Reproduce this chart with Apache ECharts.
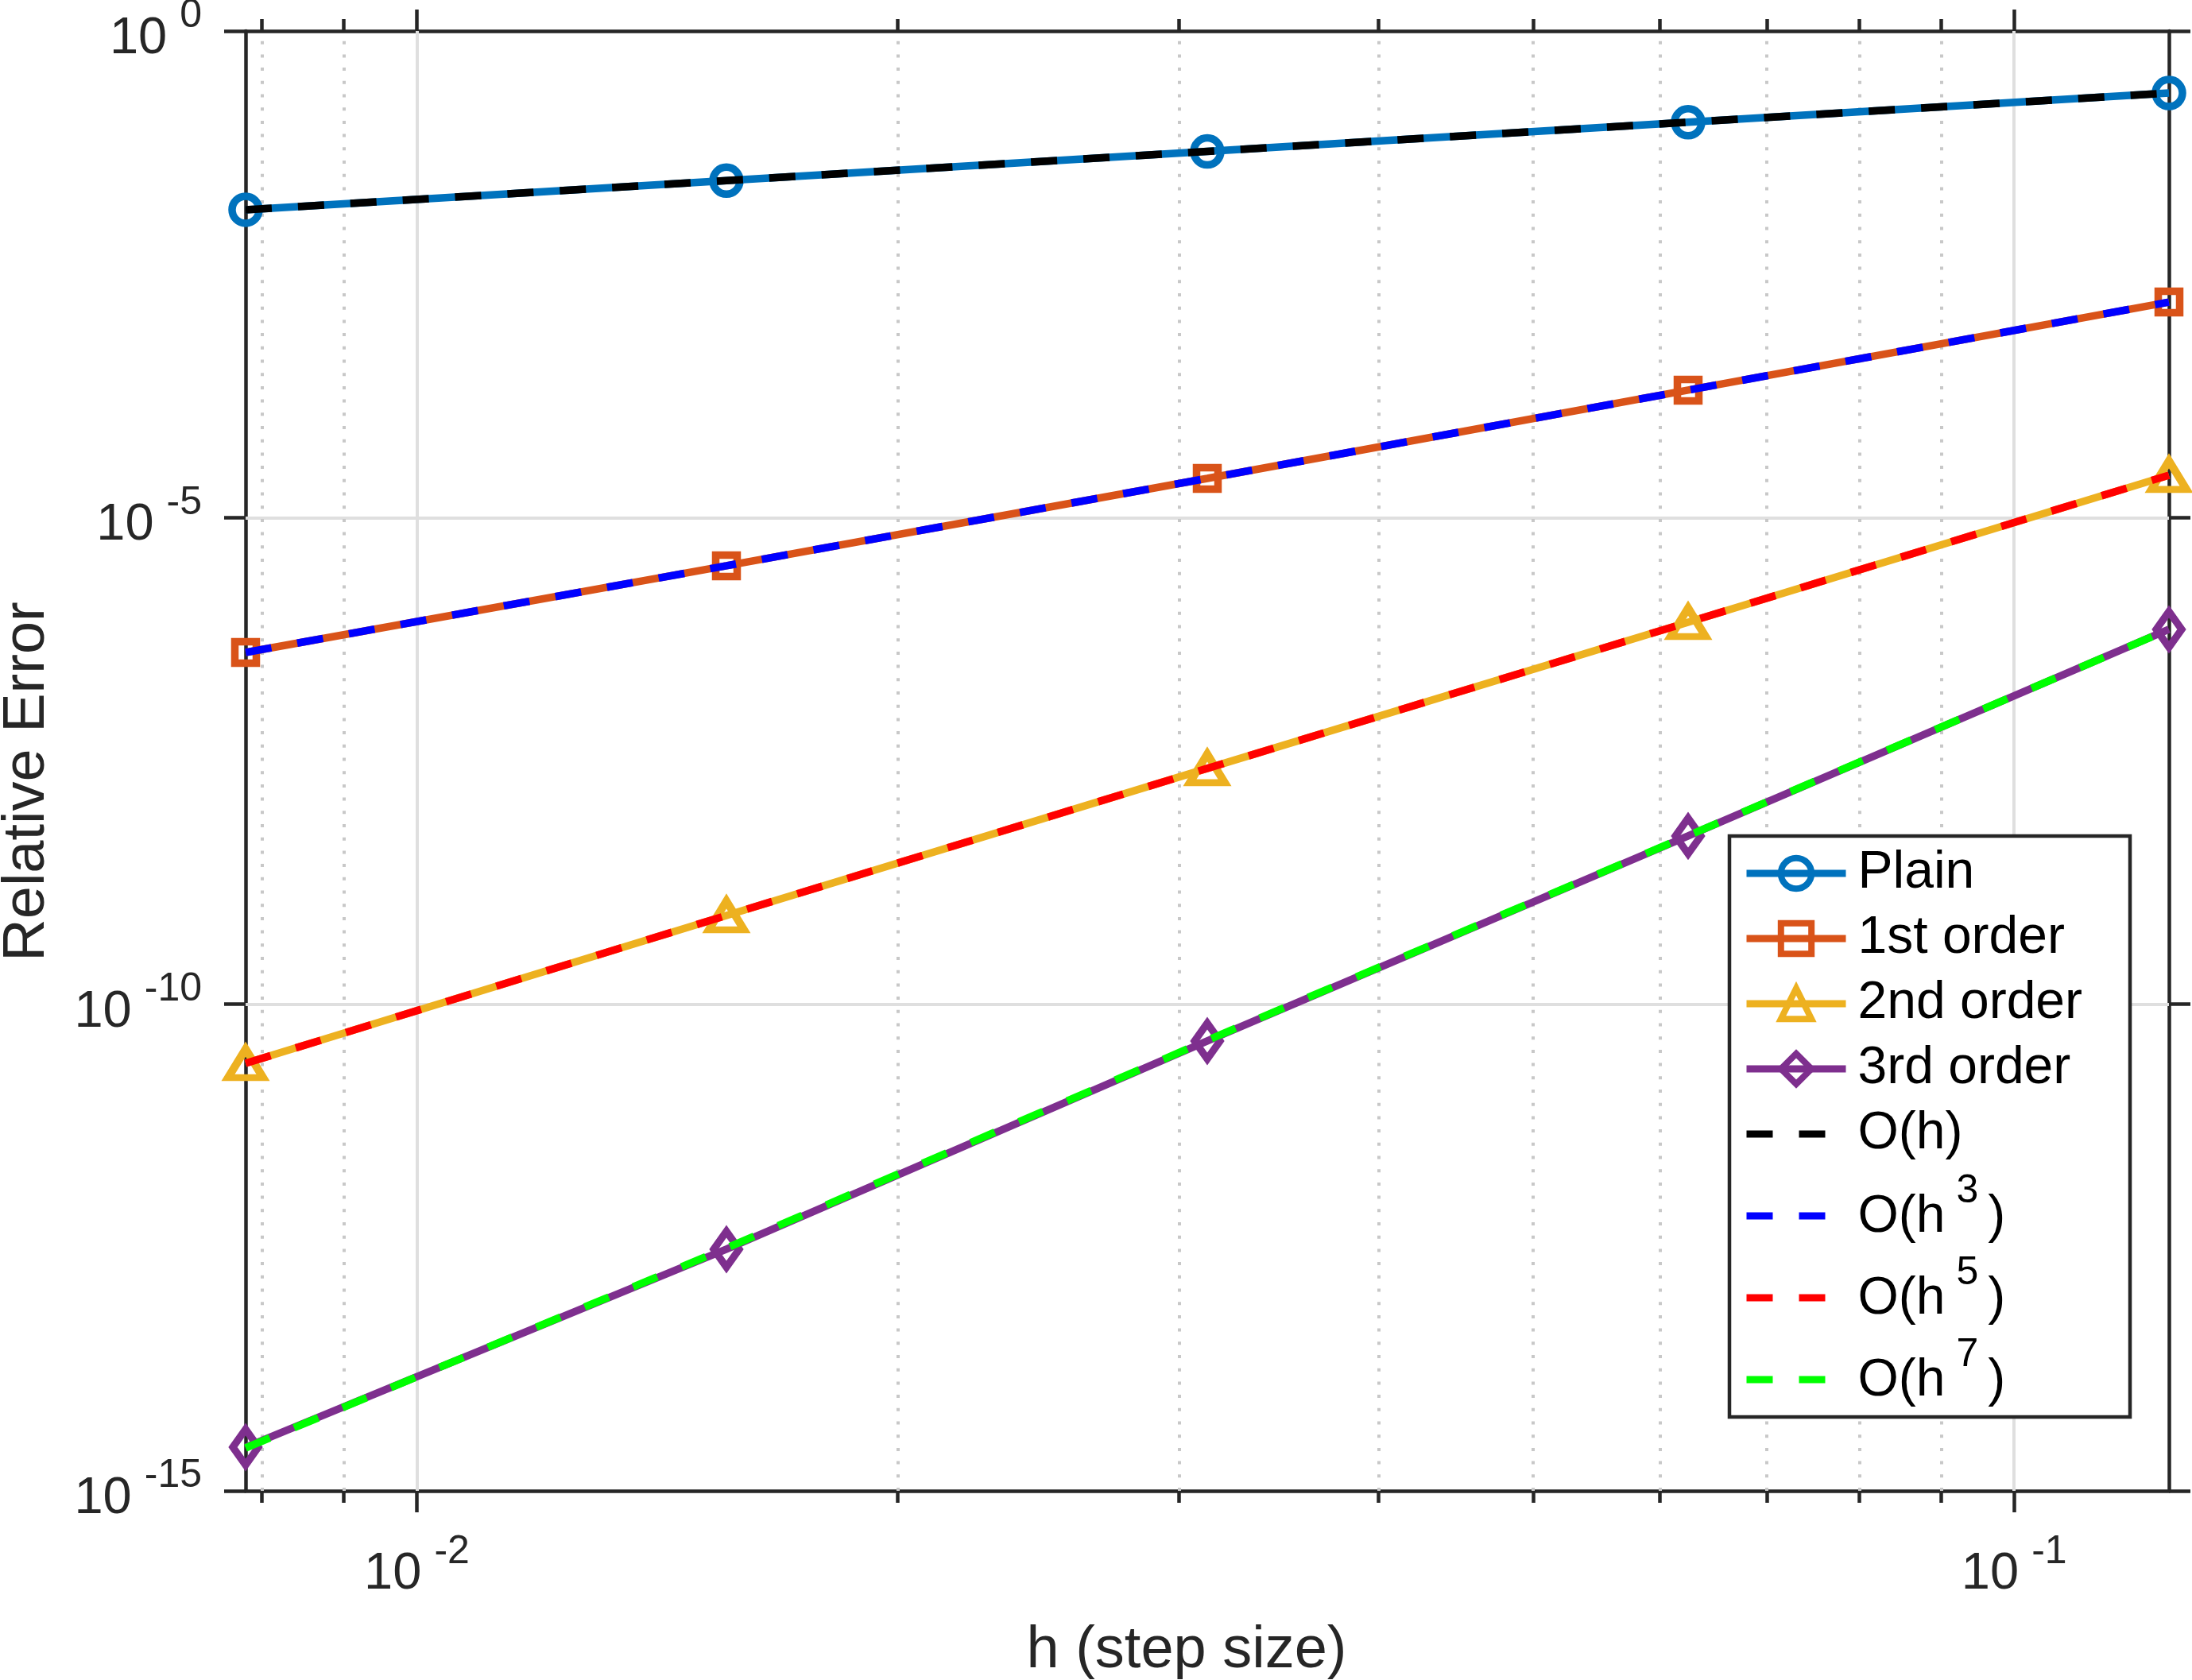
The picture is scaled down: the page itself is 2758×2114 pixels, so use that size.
<!DOCTYPE html>
<html>
<head>
<meta charset="utf-8">
<script src="https://cdn.jsdelivr.net/npm/echarts@6/dist/echarts.min.js"></script>
<style>
html, body { margin: 0; padding: 0; background: #fff; }
#chart { width: 2758px; height: 2114px; }
</style>
</head>
<body>
<div id="chart"></div>
<script>
"use strict";
// step sizes h = 1/128 ... 1/8
var steps = [1/128, 1/64, 1/32, 1/16, 1/8];
// errors
var plainErr  = [0.01455, 0.0290, 0.0579, 0.1156, 0.2307];
var firstErr  = [4.12e-7, 3.20e-6, 2.53e-5, 2.04e-4, 1.64e-3];
var secondErr = [2.47e-11, 8.17e-10, 2.65e-8, 8.41e-7, 2.73e-5];
var thirdErr  = [2.81e-15, 3.04e-13, 4.19e-11, 5.36e-9, 7.11e-7];
// reference slopes
var refH1 = [0.01455, 0.0290, 0.0579, 0.1156, 0.2307];
var refH3 = [4.12e-7, 3.20e-6, 2.53e-5, 2.04e-4, 1.64e-3];
var refH5 = [2.47e-11, 8.17e-10, 2.65e-8, 8.41e-7, 2.73e-5];
var refH7 = [2.76e-15, 3.12e-13, 4.25e-11, 5.40e-9, 7.11e-7];
// ticks
var xMajor = [0.01, 0.1];
var xMinor = [0.008, 0.009, 0.02, 0.03, 0.04, 0.05, 0.06, 0.07, 0.08, 0.09];
var yMajor = [1e-15, 1e-10, 1e-5, 1];
var yGrid = [1e-10, 1e-5];

var font = "'Liberation Sans', Helvetica, Arial, sans-serif";
var axisCol = '#262626';
var plotH = 2114 - 39 - 238;
var plotW = 2758 - 309 - 29;

function pairs(vals) {
    return steps.map(function (h, i) { return [h, vals[i]]; });
}
function powLabel(v) {
    var e = Math.round(Math.log(v) / Math.LN10);
    return '{b|10}{s|' + e + '}';
}
var tickRich = {
    b: { fontSize: 65, lineHeight: 65, fontFamily: font, color: axisCol, verticalAlign: 'bottom' },
    s: { fontSize: 50, lineHeight: 50, fontFamily: font, color: axisCol, verticalAlign: 'bottom', padding: [0, 0, 36, 16] }
};
function legendText(name) {
    var m = name.match(/^O\(h\^(\d)\)$/);
    return m ? '{n|O(h}{s|' + m[1] + '}{n|)}' : name;
}

function xAx(o) {
    var base = { type: 'log', logBase: 10, min: steps[0], max: steps[4],
        axisLine: { show: false, onZero: false }, axisLabel: { show: false },
        splitLine: { show: false }, axisTick: { show: false } };
    return Object.assign(base, o);
}
function yAx(o) {
    var base = { type: 'log', logBase: 10, min: 1e-15, max: 1, splitNumber: 3,
        axisLine: { show: false, onZero: false }, axisLabel: { show: false },
        splitLine: { show: false }, axisTick: { show: false } };
    return Object.assign(base, o);
}
var frameLine = { show: true, onZero: false, lineStyle: { color: axisCol, width: 4.5 } };
function ticks(vals, len, inside, style) {
    return { show: true, inside: !!inside, length: len, customValues: vals,
        lineStyle: style || { color: axisCol, width: 4.5 } };
}

function dataSeries(name, vals, color, symbol, size) {
    return {
        name: name, type: 'line', xAxisIndex: 2, yAxisIndex: 1, data: pairs(vals),
        symbol: symbol, symbolSize: size, showSymbol: true, clip: false, z: 3,
        lineStyle: { color: color, width: 9.5 },
        itemStyle: { color: 'rgba(0,0,0,0)', borderColor: color, borderWidth: 9.5 },
        emphasis: { disabled: true }
    };
}
function refSeries(name, vals, color) {
    return {
        name: name, type: 'line', xAxisIndex: 2, yAxisIndex: 1, data: pairs(vals),
        symbol: 'none', clip: false, z: 4,
        lineStyle: { color: color, width: 9.5, type: [33, 33] },
        itemStyle: { color: color },
        emphasis: { disabled: true }
    };
}

var chart = echarts.init(document.getElementById('chart'));
var noIcon = { color: 'rgba(0,0,0,0)', borderColor: 'rgba(0,0,0,0)', borderWidth: 0 };
chart.setOption({
    animation: false,
    backgroundColor: '#fff',
    grid: { left: 309, right: 29, top: 39, bottom: 238, containLabel: false, outerBoundsMode: 'none' },
    xAxis: [
        // minor dotted grid
        xAx({ position: 'bottom', axisTick: ticks(xMinor, plotH, true, { color: '#c8c8c8', width: 4, type: [4, 12.7] }) }),
        // major grid
        xAx({ position: 'bottom', axisTick: ticks(xMajor, plotH, true, { color: '#dfdfdf', width: 4 }) }),
        // bottom axis
        xAx({
            position: 'bottom', axisLine: frameLine, axisTick: ticks(xMajor, 27),
            axisLabel: { show: true, customValues: xMajor, margin: 73, formatter: powLabel, rich: tickRich },
            name: 'h (step size)', nameLocation: 'middle', nameGap: 162, nameMoveOverlap: false,
            nameTextStyle: { fontSize: 74, lineHeight: 80, fontFamily: font, color: axisCol, padding: [0, 52, 0, 0] }
        }),
        xAx({ position: 'bottom', axisTick: ticks(xMinor, 15) }),
        // top frame
        xAx({ position: 'top', axisLine: frameLine, axisTick: ticks(xMajor, 27) }),
        xAx({ position: 'top', axisTick: ticks(xMinor, 15) })
    ],
    yAxis: [
        yAx({ position: 'left', axisTick: ticks(yGrid, plotW, true, { color: '#dfdfdf', width: 4 }) }),
        yAx({
            position: 'left', axisLine: frameLine, axisTick: ticks(yMajor, 27),
            axisLabel: { show: true, customValues: yMajor, margin: 55, padding: [20, 0, 0, 0], formatter: powLabel, rich: tickRich },
            name: 'Relative Error', nameLocation: 'middle', nameGap: 234, nameMoveOverlap: false,
            nameTextStyle: { fontSize: 74, lineHeight: 80, fontFamily: font, color: axisCol, padding: [0, 52, 0, 0] }
        }),
        yAx({ position: 'right', axisLine: frameLine, axisTick: ticks(yMajor, 27) })
    ],
    legend: {
        orient: 'vertical', left: 2176, top: 1052,
        padding: [12, 60, 12, 17],
        itemWidth: 125, itemHeight: 48, itemGap: 12,
        borderColor: axisCol, borderWidth: 4.5, backgroundColor: '#fff',
        lineStyle: { width: 9 }, itemStyle: { borderWidth: 8 },
        formatter: legendText,
        textStyle: {
            fontSize: 66, lineHeight: 70, color: '#000', fontFamily: font, padding: [0, 0, 0, 10],
            rich: {
                n: { fontSize: 66, lineHeight: 70, color: '#000', fontFamily: font, verticalAlign: 'bottom' },
                s: { fontSize: 50, lineHeight: 56, color: '#000', fontFamily: font, verticalAlign: 'bottom', padding: [0, 12, 41, 14] }
            }
        },
        data: [
            'Plain', '1st order', '2nd order', '3rd order',
            { name: 'O(h)', itemStyle: noIcon },
            { name: 'O(h^3)', itemStyle: noIcon },
            { name: 'O(h^5)', itemStyle: noIcon },
            { name: 'O(h^7)', itemStyle: noIcon }
        ]
    },
    series: [
        dataSeries('Plain', plainErr, '#0072BD', 'circle', 34),
        dataSeries('1st order', firstErr, '#D95319', 'rect', 27),
        dataSeries('2nd order', secondErr, '#EDB120', 'triangle', [44, 36]),
        dataSeries('3rd order', thirdErr, '#7E2F8E', 'diamond', [32, 45]),
        refSeries('O(h)', refH1, '#000000'),
        refSeries('O(h^3)', refH3, '#0000FF'),
        refSeries('O(h^5)', refH5, '#FF0000'),
        refSeries('O(h^7)', refH7, '#00FF00')
    ]
});
</script>
</body>
</html>
